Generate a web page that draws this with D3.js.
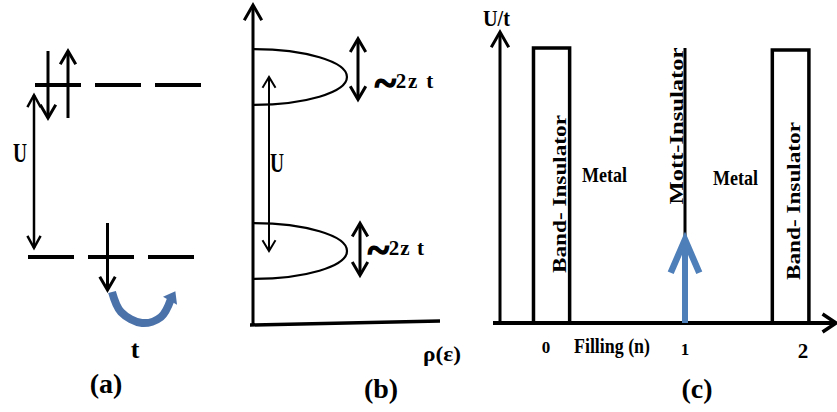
<!DOCTYPE html>
<html>
<head>
<meta charset="utf-8">
<script src="https://cdn.jsdelivr.net/npm/d3@7"></script>
<style>
  body { margin: 0; background: #fff; }
  svg { display: block; }
  text { font-family: "Liberation Serif", "Tinos", "Times New Roman", "Nimbus Roman", serif; font-weight: bold; fill: #000; }
</style>
</head>
<body>
<svg id="chart" width="837" height="412"></svg>
<script>
// ---------- (a) atomic limit: two levels split by U ----------
const orbitals = [0, 1, 2];
const levels = [0, 1];                       // 0 = lower level, 1 = upper level (energy in units of U)
const spins = [
  { level: 1, orbital: 0, dir: "down", slot: -1 },
  { level: 1, orbital: 0, dir: "up",   slot:  1 },
  { level: 0, orbital: 1, dir: "down", slot:  0 }
];
const hopPath = [[112, 292], [121, 312], [142, 323], [161, 317], [171, 299]];

// ---------- (b) density of states: Hubbard bands ----------
const bandCenters = [0, 1];                  // lower / upper Hubbard band (units of U)
const bandHalfWidth = 0.16;
const bandArrowSpans = [[-0.14, 0.16], [0.87, 1.22]];
const bandLabel = "2z t";

// ---------- (c) phase diagram U/t vs filling ----------
const fillingTicks = [0, 1, 2];
const fillingTickLabels = ["0", "1", "2"];
const bandInsulators = [[-0.09, 0.17], [1.74, 2.05]];
const mottFilling = 1;
const criticalU = 0.31;                      // onset of the Mott insulator (fraction of axis)
const metalFillings = [0.42, 1.38];

const svg = d3.select("#chart");
svg.append("rect").attr("width", 837).attr("height", 412).attr("fill", "#fff");

// chevron arrow head; tip at (x,y), pointing along angle (radians, 0 = right)
function head(g, x, y, ang, w, h, sw, color) {
  const ca = Math.cos(ang), sa = Math.sin(ang);
  const p = (dx, dy) => [x + dx * ca - dy * sa, y + dx * sa + dy * ca];
  g.append("path")
    .attr("d", d3.line()([p(-h, -w), p(0, 0), p(-h, w)]))
    .attr("fill", "none").attr("stroke", color || "#000")
    .attr("stroke-width", sw).attr("stroke-linejoin", "miter").attr("stroke-linecap", "square");
}
function vline(g, x, y1, y2, sw, color) {
  g.append("line").attr("x1", x).attr("x2", x).attr("y1", y1).attr("y2", y2)
    .attr("stroke", color || "#000").attr("stroke-width", sw);
}
const UP = -Math.PI / 2, DOWN = Math.PI / 2;

// ======================= (a) =======================
const gA = svg.append("g");
const yA = d3.scaleLinear().domain([0, 1]).range([257, 85]);
const xA = d3.scaleLinear().domain([0, 1]).range([28, 88]);   // orbital index -> dash start
const dashW = 46;
const levelShift = [0, 7];

levels.forEach(l => {
  orbitals.forEach(o => {
    const x0 = xA(o) + levelShift[l];
    gA.append("line")
      .attr("x1", x0).attr("x2", x0 + dashW)
      .attr("y1", yA(l)).attr("y2", yA(l))
      .attr("stroke", "#000").attr("stroke-width", 4);
  });
});

spins.forEach(s => {
  const cx = xA(s.orbital) + levelShift[s.level] + dashW / 2 + (s.slot === 0 ? -3.5 : s.slot * 10);
  const yl = yA(s.level);
  const top = yl - 34, bot = yl + 33;
  vline(gA, cx, top, bot, 3);
  if (s.dir === "down") head(gA, cx, bot, DOWN, 7, 12, 3);
  else head(gA, cx, top, UP, 7, 12, 3);
});

// U separation
const uTop = yA(1) + 10, uBot = yA(0) - 9;
vline(gA, 34, uTop, uBot, 2.5);
head(gA, 34, uTop, UP, 6, 11, 2.5);
head(gA, 34, uBot, DOWN, 6, 11, 2.5);
gA.append("text").attr("x", 13).attr("y", 162).attr("font-size", 27)
  .attr("textLength", 14).attr("lengthAdjust", "spacingAndGlyphs").text("U");

// hopping arrow
const blue = "#4c72aa";
gA.append("path").attr("d", d3.line().curve(d3.curveCatmullRom)(hopPath))
  .attr("fill", "none").attr("stroke", blue).attr("stroke-width", 8);
{
  const [xa, ya] = hopPath[hopPath.length - 2], [xb, yb] = hopPath[hopPath.length - 1];
  const ang = Math.atan2(yb - ya, xb - xa);
  const tipX = xb + 9 * Math.cos(ang), tipY = yb + 9 * Math.sin(ang);
  const ca = Math.cos(ang), sa = Math.sin(ang);
  const p = (dx, dy) => [tipX + dx * ca - dy * sa, tipY + dx * sa + dy * ca];
  gA.append("path").attr("d", d3.line()([p(0, 0), p(-11, -8), p(-11, 8)]) + "Z").attr("fill", blue);
}
gA.append("text").attr("x", 135).attr("y", 358).attr("font-size", 26).attr("text-anchor", "middle").text("t");
gA.append("text").attr("x", 106).attr("y", 393).attr("font-size", 28).attr("text-anchor", "middle").text("(a)");

// ======================= (b) =======================
const gB = svg.append("g");
const yB = d3.scaleLinear().domain([0, 1]).range([251, 77]);
const xB = d3.scaleLinear().domain([0, 1]).range([253, 347]);

// axes
vline(gB, xB(0), 325, 6, 3);
head(gB, xB(0), 5, UP, 8, 14, 3);
gB.append("line").attr("x1", 250).attr("x2", 440).attr("y1", 325).attr("y2", 321)
  .attr("stroke", "#000").attr("stroke-width", 3.5);

// bands as half-ellipses, each with its bandwidth arrow and "~2z t" label
const arrowX = [360, 358];
const labelX = [369, 376], labelBase = [255, 88], labelSpacing = [1, 1.8];
bandCenters.forEach((c, i) => {
  const top = yB(c + bandHalfWidth), bot = yB(c - bandHalfWidth);
  const rx = xB(1) - xB(0), ry = (bot - top) / 2;
  gB.append("path")
    .attr("d", `M${xB(0)},${top} A${rx},${ry} 0 0 1 ${xB(0)},${bot}`)
    .attr("fill", "none").attr("stroke", "#000").attr("stroke-width", 2.2);

  const [lo, hi] = bandArrowSpans[i];
  const a1 = yB(hi), a2 = yB(lo);
  vline(gB, arrowX[i], a1 + 2, a2 - 2, 3);
  head(gB, arrowX[i], a1, UP, 7, 12, 3);
  head(gB, arrowX[i], a2, DOWN, 7, 12, 3);

  const t = gB.append("text").attr("x", labelX[i]).attr("y", labelBase[i]);
  t.append("tspan").attr("font-size", 40).attr("dy", 8).attr("dx", -1)
    .attr("stroke", "#000").attr("stroke-width", 1.6)
    .style("font-family", "'Liberation Serif', serif").text("~");
  t.append("tspan").attr("font-size", 21).attr("dy", -8).attr("dx", 0)
    .attr("letter-spacing", labelSpacing[i]).text(bandLabel);
});

// U between band centres
const ux = 269;
vline(gB, ux, yB(1) + 1, yB(0) - 1, 2);
head(gB, ux, yB(1), UP, 6, 10, 2);
head(gB, ux, yB(0), DOWN, 6, 10, 2);
gB.append("text").attr("x", 270).attr("y", 172).attr("font-size", 27)
  .attr("textLength", 14).attr("lengthAdjust", "spacingAndGlyphs").text("U");

gB.append("text").attr("x", 423).attr("y", 361).attr("font-size", 22)
  .attr("textLength", 38).attr("lengthAdjust", "spacingAndGlyphs").text("ρ(ε)");
gB.append("text").attr("x", 381).attr("y", 398).attr("font-size", 28).attr("text-anchor", "middle").text("(b)");

// ======================= (c) =======================
const gC = svg.append("g");
const xC = d3.scaleLinear().domain([0, 1, 2]).range([546, 685, 803]);
const yC = d3.scaleLinear().domain([0, 1]).range([323, 48]);

// axes
vline(gC, 500, yC(0), 33, 3);
head(gC, 500, 32, UP, 8, 14, 3);
gC.append("line").attr("x1", 493).attr("x2", 834).attr("y1", yC(0)).attr("y2", yC(0))
  .attr("stroke", "#000").attr("stroke-width", 4);
head(gC, 836, yC(0), 0, 8, 12, 3.5);

gC.append("text").attr("x", 483).attr("y", 26).attr("font-size", 23)
  .attr("textLength", 27).attr("lengthAdjust", "spacingAndGlyphs").text("U/t");

// band insulators
bandInsulators.forEach(([a, b], i) => {
  gC.append("rect")
    .attr("x", xC(a)).attr("y", yC(1) + i * 2)
    .attr("width", xC(b) - xC(a)).attr("height", yC(0) - yC(1) - i * 2)
    .attr("fill", "none").attr("stroke", "#000").attr("stroke-width", 3.5);
  const cx = i === 0 ? 566 : 800, cy = i === 0 ? 194 : 201;
  gC.append("text").attr("transform", `translate(${cx},${cy}) rotate(-90)`)
    .attr("text-anchor", "middle").attr("font-size", 18)
    .attr("textLength", 158).attr("lengthAdjust", "spacingAndGlyphs").text("Band- Insulator");
});

// Mott insulator at half filling
vline(gC, xC(mottFilling), yC(1), yC(0), 3);
gC.append("text").attr("transform", `translate(683,126) rotate(-90)`)
  .attr("text-anchor", "middle").attr("font-size", 19)
  .attr("textLength", 157).attr("lengthAdjust", "spacingAndGlyphs").text("Mott-Insulator");

// arrow up to the critical U
const blueC = "#4f7fb9";
vline(gC, xC(mottFilling), yC(0), yC(criticalU) + 4, 6, blueC);
head(gC, xC(mottFilling), yC(criticalU) + 2, UP, 13, 30, 6.5, blueC);

// metal labels
metalFillings.forEach((f, i) => {
  gC.append("text").attr("x", i === 0 ? 582 : 713).attr("y", i === 0 ? 182 : 185)
    .attr("font-size", 22).attr("textLength", 45).attr("lengthAdjust", "spacingAndGlyphs").text("Metal");
});

// filling ticks
const tickY = [353, 355, 358], tickSize = [17, 17, 21];
fillingTicks.forEach((n, i) => {
  gC.append("text").attr("x", xC(n)).attr("y", tickY[i]).attr("font-size", tickSize[i])
    .attr("text-anchor", "middle").text(fillingTickLabels[i]);
});
gC.append("text").attr("x", 574).attr("y", 353).attr("font-size", 22)
  .attr("textLength", 76).attr("lengthAdjust", "spacingAndGlyphs").text("Filling (n)");
gC.append("text").attr("x", 697).attr("y", 398).attr("font-size", 28).attr("text-anchor", "middle").text("(c)");
</script>
</body>
</html>
